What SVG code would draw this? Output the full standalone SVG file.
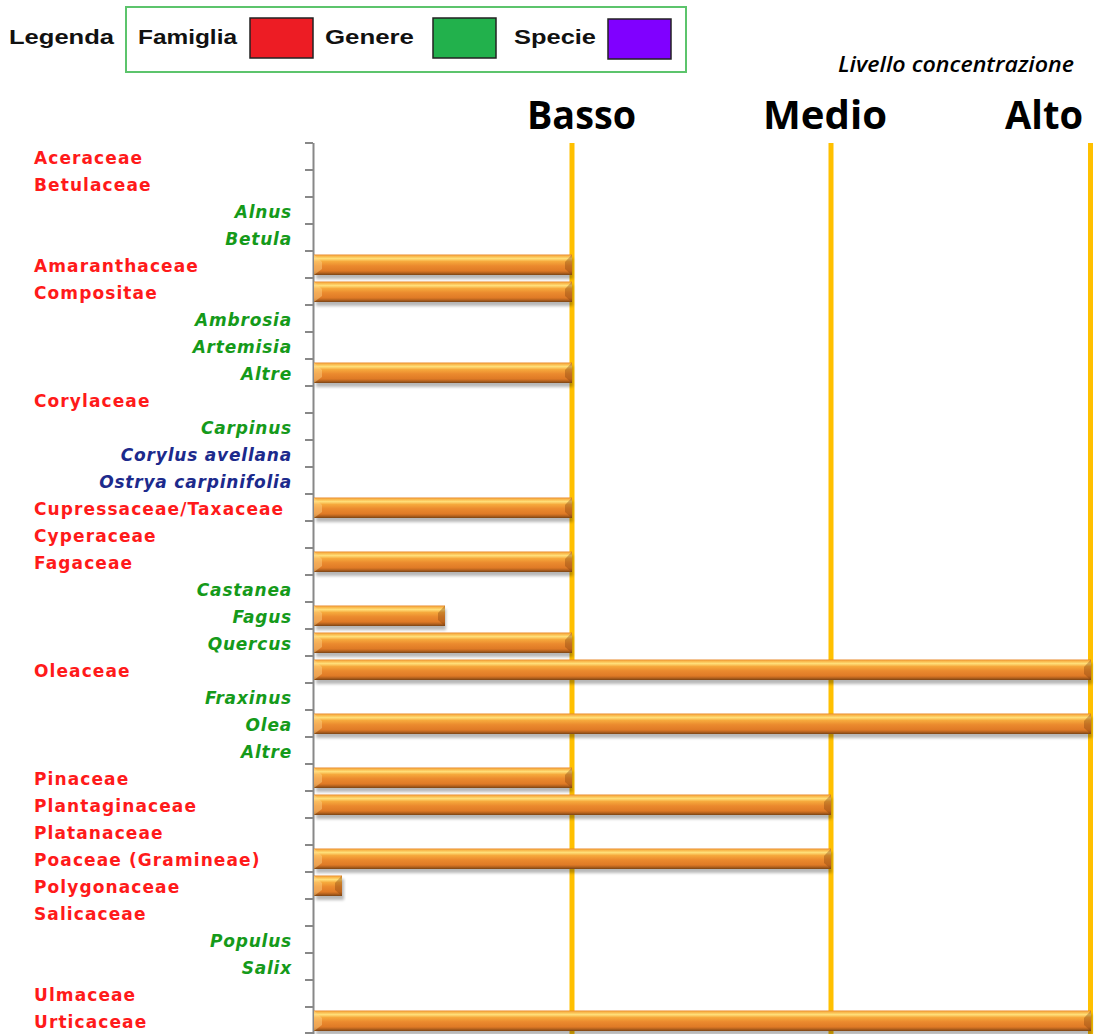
<svg xmlns="http://www.w3.org/2000/svg" width="1094" height="1034" viewBox="0 0 1094 1034">
<style>
.fam{font-family:"DejaVu Sans",Verdana,sans-serif;font-weight:bold;font-size:17px;letter-spacing:1.1px;fill:#ff1a1a}
.gen{font-family:"DejaVu Sans",Verdana,sans-serif;font-weight:bold;font-style:italic;font-size:17px;letter-spacing:0.8px;fill:#159a1a;text-anchor:end}
.spe{font-family:"DejaVu Sans",Verdana,sans-serif;font-weight:bold;font-style:italic;font-size:17px;letter-spacing:0.8px;fill:#1c2a8c;text-anchor:end}
.leg{font-family:"Liberation Sans",Arial,sans-serif;font-weight:bold;font-size:20px;fill:#111}
.lvl{font-family:"Open Sans","Liberation Sans",sans-serif;font-weight:bold;font-size:40px;fill:#000}
.bar{fill:url(#barGrad)}
.shadow{fill:#000;opacity:.28;filter:url(#blur)}
.capL{fill:#ffd58a;opacity:.45}
.capR{fill:#7a3c0c;opacity:.35}
.grid{stroke:#ffc000;stroke-width:5}
.tick{stroke:#888;stroke-width:2}
</style>
<defs>
<linearGradient id="barGrad" x1="0" y1="0" x2="0" y2="1">
<stop offset="0" stop-color="#e88a2c"/>
<stop offset="0.08" stop-color="#f9b548"/>
<stop offset="0.2" stop-color="#ffe07a"/>
<stop offset="0.34" stop-color="#f6a93c"/>
<stop offset="0.55" stop-color="#eb8a2e"/>
<stop offset="0.8" stop-color="#df7a26"/>
<stop offset="0.9" stop-color="#b5621e"/>
<stop offset="1" stop-color="#7a4414"/>
</linearGradient>
<filter id="blur" x="-5%" y="-50%" width="110%" height="200%"><feGaussianBlur stdDeviation="1.6"/></filter>
</defs>
<rect width="1094" height="1034" fill="#fff"/>

<g id="legend">
<text class="leg" x="9" y="44" textLength="105" lengthAdjust="spacingAndGlyphs">Legenda</text>
<rect x="126" y="7" width="560" height="65" fill="none" stroke="#5cc46c" stroke-width="2"/>
<text class="leg" x="138" y="44" textLength="99" lengthAdjust="spacingAndGlyphs">Famiglia</text>
<rect x="250" y="18" width="63" height="40" fill="#ed1c24" stroke="#222" stroke-width="1.5"/>
<text class="leg" x="325" y="44" textLength="89" lengthAdjust="spacingAndGlyphs">Genere</text>
<rect x="433" y="18" width="63" height="40" fill="#22b14c" stroke="#222" stroke-width="1.5"/>
<text class="leg" x="514" y="44" textLength="82" lengthAdjust="spacingAndGlyphs">Specie</text>
<rect x="608" y="19" width="63" height="40" fill="#8000ff" stroke="#222" stroke-width="1.5"/>
</g>

<g id="levels">
<text x="838" y="72" font-family="Open Sans, Liberation Sans, sans-serif" font-weight="600" font-style="italic" font-size="21" textLength="236" lengthAdjust="spacingAndGlyphs" fill="#000">Livello concentrazione</text>
<text class="lvl" x="527" y="129" textLength="109" lengthAdjust="spacingAndGlyphs">Basso</text>
<text class="lvl" x="763" y="129" textLength="124" lengthAdjust="spacingAndGlyphs">Medio</text>
<text class="lvl" x="1005" y="129" textLength="78" lengthAdjust="spacingAndGlyphs">Alto</text>
</g>

<g id="connectors">
<line class="grid" x1="572" y1="143" x2="572" y2="1034"/>
<line class="grid" x1="831" y1="143" x2="831" y2="1034"/>
<line class="grid" x1="1090.5" y1="143" x2="1090.5" y2="1034"/>
<line x1="313.5" y1="143" x2="313.5" y2="1034" stroke="#888" stroke-width="2"/>
<path class="tick" d="M305 143H313M305 170H313M305 197H313M305 224H313M305 251H313M305 278H313M305 305H313M305 332H313M305 359H313M305 386H313M305 413H313M305 440H313M305 467H313M305 494H313M305 521H313M305 548H313M305 575H313M305 602H313M305 629H313M305 656H313M305 683H313M305 710H313M305 737H313M305 764H313M305 791H313M305 818H313M305 845H313M305 872H313M305 899H313M305 926H313M305 953H313M305 980H313M305 1007H313M305 1033H313"/>
</g>

<g id="labels">
<text class="fam" x="34" y="164">Aceraceae</text>
<text class="fam" x="34" y="191">Betulaceae</text>
<text class="gen" x="292" y="218">Alnus</text>
<text class="gen" x="292" y="245">Betula</text>
<text class="fam" x="34" y="272">Amaranthaceae</text>
<text class="fam" x="34" y="299">Compositae</text>
<text class="gen" x="292" y="326">Ambrosia</text>
<text class="gen" x="292" y="353">Artemisia</text>
<text class="gen" x="292" y="380">Altre</text>
<text class="fam" x="34" y="407">Corylaceae</text>
<text class="gen" x="292" y="434">Carpinus</text>
<text class="spe" x="292" y="461">Corylus avellana</text>
<text class="spe" x="292" y="488">Ostrya carpinifolia</text>
<text class="fam" x="34" y="515">Cupressaceae/Taxaceae</text>
<text class="fam" x="34" y="542">Cyperaceae</text>
<text class="fam" x="34" y="569">Fagaceae</text>
<text class="gen" x="292" y="596">Castanea</text>
<text class="gen" x="292" y="623">Fagus</text>
<text class="gen" x="292" y="650">Quercus</text>
<text class="fam" x="34" y="677">Oleaceae</text>
<text class="gen" x="292" y="704">Fraxinus</text>
<text class="gen" x="292" y="731">Olea</text>
<text class="gen" x="292" y="758">Altre</text>
<text class="fam" x="34" y="785">Pinaceae</text>
<text class="fam" x="34" y="812">Plantaginaceae</text>
<text class="fam" x="34" y="839">Platanaceae</text>
<text class="fam" x="34" y="866">Poaceae (Gramineae)</text>
<text class="fam" x="34" y="893">Polygonaceae</text>
<text class="fam" x="34" y="920">Salicaceae</text>
<text class="gen" x="292" y="947">Populus</text>
<text class="gen" x="292" y="974">Salix</text>
<text class="fam" x="34" y="1001">Ulmaceae</text>
<text class="fam" x="34" y="1028">Urticaceae</text>
</g>

<g id="bars">
<g id="bar-amaranthaceae"><rect class="shadow" x="316" y="258" width="257" height="21"/><rect class="bar" x="314" y="254.5" width="258" height="20.5"/><polygon class="capL" points="314,254.5 322,262 322,269 314,275"/><polygon class="capR" points="572,254.5 565,262 565,269 572,275"/></g>
<g id="bar-compositae"><rect class="shadow" x="316" y="285" width="257" height="21"/><rect class="bar" x="314" y="281.5" width="258" height="20.5"/><polygon class="capL" points="314,281.5 322,289 322,296 314,302"/><polygon class="capR" points="572,281.5 565,289 565,296 572,302"/></g>
<g id="bar-altre-compositae"><rect class="shadow" x="316" y="366" width="257" height="21"/><rect class="bar" x="314" y="362.5" width="258" height="20.5"/><polygon class="capL" points="314,362.5 322,370 322,377 314,383"/><polygon class="capR" points="572,362.5 565,370 565,377 572,383"/></g>
<g id="bar-cupressaceae"><rect class="shadow" x="316" y="501" width="257" height="21"/><rect class="bar" x="314" y="497.5" width="258" height="20.5"/><polygon class="capL" points="314,497.5 322,505 322,512 314,518"/><polygon class="capR" points="572,497.5 565,505 565,512 572,518"/></g>
<g id="bar-fagaceae"><rect class="shadow" x="316" y="555" width="257" height="21"/><rect class="bar" x="314" y="551.5" width="258" height="20.5"/><polygon class="capL" points="314,551.5 322,559 322,566 314,572"/><polygon class="capR" points="572,551.5 565,559 565,566 572,572"/></g>
<g id="bar-fagus"><rect class="shadow" x="316" y="609" width="130" height="21"/><rect class="bar" x="314" y="605.5" width="131" height="20.5"/><polygon class="capL" points="314,605.5 322,613 322,620 314,626"/><polygon class="capR" points="445,605.5 438,613 438,620 445,626"/></g>
<g id="bar-quercus"><rect class="shadow" x="316" y="636" width="257" height="21"/><rect class="bar" x="314" y="632.5" width="258" height="20.5"/><polygon class="capL" points="314,632.5 322,640 322,647 314,653"/><polygon class="capR" points="572,632.5 565,640 565,647 572,653"/></g>
<g id="bar-oleaceae"><rect class="shadow" x="316" y="663" width="776" height="21"/><rect class="bar" x="314" y="659.5" width="777" height="20.5"/><polygon class="capL" points="314,659.5 322,667 322,674 314,680"/><polygon class="capR" points="1091,659.5 1084,667 1084,674 1091,680"/></g>
<g id="bar-olea"><rect class="shadow" x="316" y="717" width="776" height="21"/><rect class="bar" x="314" y="713.5" width="777" height="20.5"/><polygon class="capL" points="314,713.5 322,721 322,728 314,734"/><polygon class="capR" points="1091,713.5 1084,721 1084,728 1091,734"/></g>
<g id="bar-pinaceae"><rect class="shadow" x="316" y="771" width="257" height="21"/><rect class="bar" x="314" y="767.5" width="258" height="20.5"/><polygon class="capL" points="314,767.5 322,775 322,782 314,788"/><polygon class="capR" points="572,767.5 565,775 565,782 572,788"/></g>
<g id="bar-plantaginaceae"><rect class="shadow" x="316" y="798" width="516" height="21"/><rect class="bar" x="314" y="794.5" width="517" height="20.5"/><polygon class="capL" points="314,794.5 322,802 322,809 314,815"/><polygon class="capR" points="831,794.5 824,802 824,809 831,815"/></g>
<g id="bar-poaceae"><rect class="shadow" x="316" y="852" width="516" height="21"/><rect class="bar" x="314" y="848.5" width="517" height="20.5"/><polygon class="capL" points="314,848.5 322,856 322,863 314,869"/><polygon class="capR" points="831,848.5 824,856 824,863 831,869"/></g>
<g id="bar-polygonaceae"><rect class="shadow" x="316" y="879" width="28" height="21"/><rect class="bar" x="314" y="875.5" width="28" height="20.5"/><polygon class="capL" points="314,875.5 322,883 322,890 314,896"/><polygon class="capR" points="342,875.5 335,883 335,890 342,896"/></g>
<g id="bar-urticaceae"><rect class="shadow" x="316" y="1014" width="776" height="21"/><rect class="bar" x="314" y="1010.5" width="777" height="20.5"/><polygon class="capL" points="314,1010.5 322,1018 322,1025 314,1031"/><polygon class="capR" points="1091,1010.5 1084,1018 1084,1025 1091,1031"/></g>
</g>
</svg>
